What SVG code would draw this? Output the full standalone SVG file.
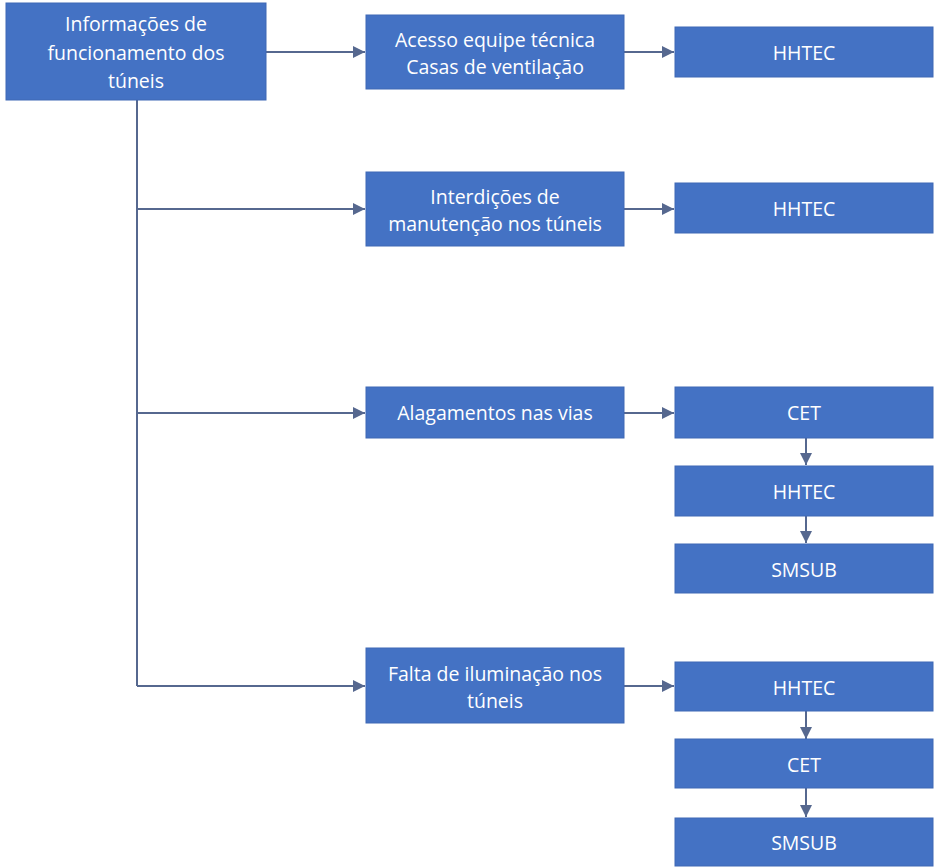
<svg xmlns="http://www.w3.org/2000/svg" width="938" height="868" viewBox="0 0 938 868">
<style>
.box{fill:#4472C4;stroke:#3f69b5;stroke-width:1}
.t{fill:#ffffff;font-family:"Open Sans","Liberation Sans",sans-serif;font-size:19.5px;text-anchor:middle;dominant-baseline:central}
.c{stroke:#56688f;stroke-width:2;fill:none}
</style>
<defs>
<marker id="ah" viewBox="0 0 10 10" refX="10" refY="5" markerWidth="7" markerHeight="6" markerUnits="strokeWidth" orient="auto">
<path d="M0,0 L10,5 L0,10 z" fill="#56688f"/>
</marker>
</defs>
<rect width="938" height="868" fill="#ffffff"/>
<g id="connectors">
<path class="c" d="M266,52 H365" marker-end="url(#ah)"/>
<path class="c" d="M624,52 H674" marker-end="url(#ah)"/>
<path class="c" d="M137,100 V686"/>
<path class="c" d="M137,209 H365" marker-end="url(#ah)"/>
<path class="c" d="M624,209 H674" marker-end="url(#ah)"/>
<path class="c" d="M137,413 H365" marker-end="url(#ah)"/>
<path class="c" d="M624,413 H674" marker-end="url(#ah)"/>
<path class="c" d="M137,686 H365" marker-end="url(#ah)"/>
<path class="c" d="M624,686 H674" marker-end="url(#ah)"/>
<path class="c" d="M806,438 V465" marker-end="url(#ah)"/>
<path class="c" d="M806,516 V543" marker-end="url(#ah)"/>
<path class="c" d="M806,711 V739" marker-end="url(#ah)"/>
<path class="c" d="M806,788 V817" marker-end="url(#ah)"/>
</g>
<g id="root">
<rect class="box" x="6" y="3" width="260" height="97"/>
<text class="t" x="136" y="23">Informações de</text>
<text class="t" x="136" y="52">funcionamento dos</text>
<text class="t" x="136" y="80">túneis</text>
</g>
<g id="acesso">
<rect class="box" x="366" y="15" width="258" height="74"/>
<text class="t" x="495" y="39">Acesso equipe técnica</text>
<text class="t" x="495" y="66">Casas de ventilação</text>
</g>
<g id="hhtec1">
<rect class="box" x="675" y="27" width="258" height="50"/>
<text class="t" x="804" y="52">HHTEC</text>
</g>
<g id="interdicoes">
<rect class="box" x="366" y="172" width="258" height="74"/>
<text class="t" x="495" y="196">Interdições de</text>
<text class="t" x="495" y="223">manutenção nos túneis</text>
</g>
<g id="hhtec2">
<rect class="box" x="675" y="183" width="258" height="50"/>
<text class="t" x="804" y="208">HHTEC</text>
</g>
<g id="alagamentos">
<rect class="box" x="366" y="387" width="258" height="51"/>
<text class="t" x="495" y="412">Alagamentos nas vias</text>
</g>
<g id="cet1">
<rect class="box" x="675" y="387" width="258" height="51"/>
<text class="t" x="804" y="412">CET</text>
</g>
<g id="hhtec3">
<rect class="box" x="675" y="466" width="258" height="50"/>
<text class="t" x="804" y="491">HHTEC</text>
</g>
<g id="smsub1">
<rect class="box" x="675" y="544" width="258" height="49"/>
<text class="t" x="804" y="569">SMSUB</text>
</g>
<g id="falta">
<rect class="box" x="366" y="648" width="258" height="75"/>
<text class="t" x="495" y="673">Falta de iluminação nos</text>
<text class="t" x="495" y="700">túneis</text>
</g>
<g id="hhtec4">
<rect class="box" x="675" y="662" width="258" height="49"/>
<text class="t" x="804" y="687">HHTEC</text>
</g>
<g id="cet2">
<rect class="box" x="675" y="739" width="258" height="49"/>
<text class="t" x="804" y="764">CET</text>
</g>
<g id="smsub2">
<rect class="box" x="675" y="818" width="258" height="48"/>
<text class="t" x="804" y="842">SMSUB</text>
</g>
</svg>
